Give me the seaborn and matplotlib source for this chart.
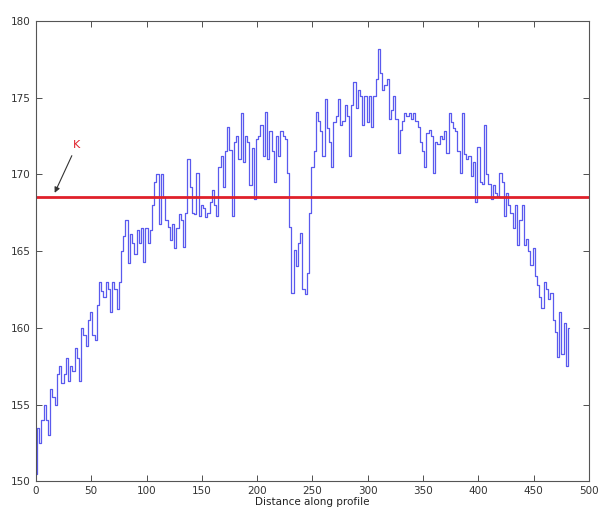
import numpy as np
import matplotlib
matplotlib.use("Agg")
import matplotlib.pyplot as plt
import seaborn as sns

# --- Profile data (every 2 units) ---
distance = list(range(0, 484, 2))
elevation = [
    150.5, 153.5, 152.5, 154.0, 155.0, 154.0, 153.0, 156.0, 155.5, 155.0,
    157.0, 157.5, 156.4, 157.0, 158.0, 156.5, 157.5, 157.2, 158.7, 158.0,
    156.5, 160.0, 159.5, 158.8, 160.5, 161.0, 159.5, 159.2, 161.5, 163.0,
    162.4, 162.0, 163.0, 162.5, 161.0, 163.0, 162.5, 161.2, 163.0, 165.0,
    166.0, 167.0, 164.2, 166.1, 165.5, 164.8, 166.4, 165.5, 166.5, 164.3,
    166.5, 165.5, 166.4, 168.0, 169.5, 170.0, 166.8, 170.0, 168.5, 167.0,
    166.6, 165.7, 166.8, 165.2, 166.5, 167.4, 167.0, 165.3, 167.5, 171.0,
    169.2, 167.5, 167.4, 170.1, 167.3, 168.0, 167.8, 167.2, 167.5, 168.2,
    169.0, 168.0, 167.3, 170.5, 171.2, 169.2, 171.5, 173.1, 171.6, 167.3,
    172.1, 172.5, 171.0, 174.0, 170.8, 172.5, 172.1, 169.3, 171.7, 168.4,
    172.3, 172.5, 173.2, 171.2, 174.1, 171.0, 172.8, 171.5, 169.5, 172.5,
    171.2, 172.8, 172.5, 172.3, 170.1, 166.6, 162.3, 165.1, 164.0, 165.5,
    166.2, 162.5, 162.2, 163.6, 167.5, 170.5, 171.5, 174.1, 173.5, 172.8,
    171.2, 174.9, 173.0, 172.1, 170.5, 173.4, 173.8, 174.9, 173.2, 173.5,
    174.5, 173.8, 171.2, 174.5, 176.0, 174.3, 175.5, 175.1, 173.2, 175.1,
    173.4, 175.1, 173.1, 175.1, 176.2, 178.2, 176.6, 175.5, 175.8, 176.2,
    173.6, 174.2, 175.1, 173.6, 171.4, 172.9, 173.5, 174.0, 173.8, 174.0,
    173.6, 174.0, 173.5, 173.1, 172.1, 171.5, 170.5, 172.7, 172.9, 172.5,
    170.1, 172.1, 172.0, 172.5, 172.3, 172.8, 171.4, 174.0, 173.4, 173.0,
    172.8, 171.5, 170.1, 174.0, 171.3, 171.0, 171.2, 169.9, 170.8, 168.2,
    171.8, 169.5, 169.4, 173.2, 170.0, 169.4, 168.4, 169.3, 168.8, 168.6,
    170.1, 169.5, 167.3, 168.8, 168.0, 167.5, 166.5, 168.0, 165.4, 167.0,
    168.0, 165.4, 165.8, 165.0, 164.1, 165.2, 163.4, 162.8, 162.0, 161.3,
    163.0, 162.5, 161.9, 162.3, 160.5, 159.7, 158.1, 161.0, 158.3, 160.3,
    157.5, 160.0,
]

K_LEVEL = 168.5
x_ticks = [0, 50, 100, 150, 200, 250, 300, 350, 400, 450, 500]
y_ticks = [150, 155, 160, 165, 170, 175, 180]

sns.set_style("white")
plt.rcParams['font.family'] = ['DejaVu Sans']

fig = plt.figure(figsize=(5.98, 5.13), dpi=100)
ax = fig.add_axes([0.060, 0.062, 0.925, 0.897])

# stepped look like the original matlab profile
sns.lineplot(x=distance, y=elevation, ax=ax, estimator=None,
             color='#5a5aee', linewidth=0.9, drawstyle='steps-mid')
ax.axhline(K_LEVEL, color='#e0202a', linewidth=2)

# label + arrow pointing at the threshold line
ax.annotate('K', xy=(17, K_LEVEL + 0.3), xytext=(37, 171.6),
            color='#e0202a', fontsize=8, ha='center', va='bottom',
            arrowprops=dict(arrowstyle='-|>', color='#333333', lw=0.8,
                            shrinkA=2, shrinkB=0, mutation_scale=8))

ax.set_xlim(0, 500)
ax.set_ylim(150, 180)
ax.set_xticks(x_ticks)
ax.set_yticks(y_ticks)
ax.tick_params(direction='in', bottom=True, left=True, top=True, right=True,
               labelsize=7.5, length=4, width=0.6, colors='#333333')
for sp in ax.spines.values():
    sp.set_color('#555555')
    sp.set_linewidth(0.8)

ax.set_xlabel('Distance along profile', fontsize=7.5, labelpad=1, color='#222222')
ax.set_ylabel('')

plt.savefig('out.png', dpi=100)
plt.close()
